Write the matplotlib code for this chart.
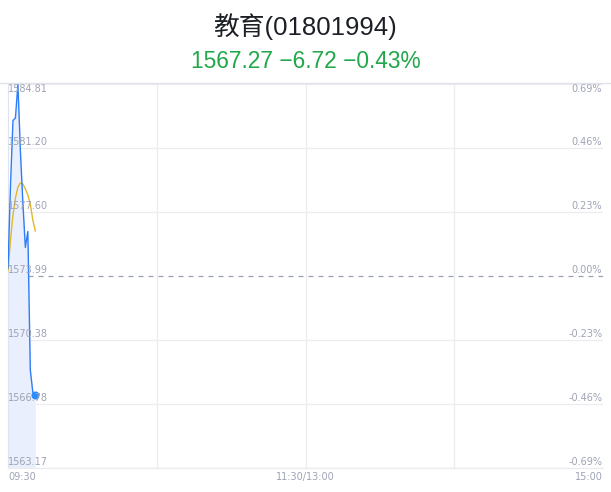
import numpy as np
import matplotlib
matplotlib.use("Agg")
import matplotlib.pyplot as plt

plt.rcParams["font.family"] = ["Liberation Sans", "Noto Sans CJK SC", "DejaVu Sans"]

title = "教育(01801994)"
prev_close = 1573.99
last_price = 1567.27
change = -6.72
change_pct = -0.43

# minutes since 09:30 (trading minutes)
minutes = [0, 1, 2, 3, 4, 5, 6, 7, 8, 9, 10, 11]
price = [1574.45, 1579.06, 1582.75, 1582.90, 1584.81, 1581.03,
         1578.10, 1575.60, 1576.50, 1568.69, 1567.45, 1567.27]
avg_price = [1574.30, 1576.02, 1577.43, 1578.39, 1579.00, 1579.23,
             1579.17, 1578.89, 1578.56, 1578.05, 1577.15, 1576.53]

y_min, y_max = 1563.17, 1584.81
x_labels = ["09:30", "11:30/13:00", "15:00"]

W, H = 611, 492
fig = plt.figure(figsize=(W / 100, H / 100), dpi=100)
ax = fig.add_axes([8 / W, 1 - 468 / H, 595 / W, 384 / H])

label_color = "#9ea3b5"
grid_color = "#ebebf0"
tick_font = ["DejaVu Sans"]

ax.set_xlim(0, 240)
ax.set_ylim(y_min, y_max)

ticks = np.linspace(y_min, y_max, 7)
for t in ticks:
    if abs(t - prev_close) < 1e-6:
        ax.axhline(t, color="#9aa0b0", lw=0.9, ls=(0, (4, 4)), zorder=1)
    else:
        ax.axhline(t, color=grid_color, lw=0.9, zorder=1)
for m in (60, 120, 180):
    ax.axvline(m, color=grid_color, lw=0.9, zorder=1)

ax.fill_between(minutes, price, y_min, color="#e9effc", lw=0, zorder=2)
ax.plot(minutes, price, color="#2e7cf6", lw=1.0, zorder=4)
ax.plot(minutes, avg_price, color="#e2b72a", lw=1.0, zorder=3)
ax.scatter([minutes[-1]], [price[-1]], s=34, color="#2b8cff", zorder=5,
           linewidths=0)

# y tick labels inside plot
for i, t in enumerate(ticks):
    pct = (t - prev_close) / prev_close * 100
    pct_txt = f"{pct:.2f}%"
    if pct_txt == "-0.00%":
        pct_txt = "0.00%"
    if i == len(ticks) - 1:
        off, va = 0, "top"
    else:
        off, va = 1, "bottom"
    ax.annotate(f"{t:.2f}", (0, t), xytext=(0, off), textcoords="offset points",
                ha="left", va=va, fontsize=7, color=label_color,
                family=tick_font, zorder=6)
    ax.annotate(pct_txt, (240, t), xytext=(-0.5, off), textcoords="offset points",
                ha="right", va=va, fontsize=7, color=label_color,
                family=tick_font, zorder=6)

for xv, lab, ha in zip([0, 120, 240], x_labels, ["left", "center", "right"]):
    ax.annotate(lab, (xv, y_min), xytext=(0, -3), textcoords="offset points",
                ha=ha, va="top", fontsize=7, color=label_color,
                family=tick_font, annotation_clip=False)

ax.set_xticks([])
ax.set_yticks([])
for side in ("top", "right"):
    ax.spines[side].set_visible(False)
ax.spines["left"].set_color("#dde3f0")
ax.spines["left"].set_linewidth(0.8)
ax.spines["bottom"].set_color(grid_color)
ax.spines["bottom"].set_linewidth(0.9)

# separator line under the header
fig.add_artist(plt.Line2D([0, 1], [1 - 83 / H, 1 - 83 / H], color="#e2e2e8",
                          lw=1.0, transform=fig.transFigure))

fig.text(0.5, 1 - 27 / H, title, ha="center", va="center", fontsize=18.5,
         color="#1d1f26")
fig.text(0.5, 1 - 61 / H,
         f"{last_price:.2f} \u2212{abs(change):.2f} \u2212{abs(change_pct):.2f}%",
         ha="center", va="center", fontsize=16.4, color="#20a84a")

fig.savefig("out.png", dpi=100)
